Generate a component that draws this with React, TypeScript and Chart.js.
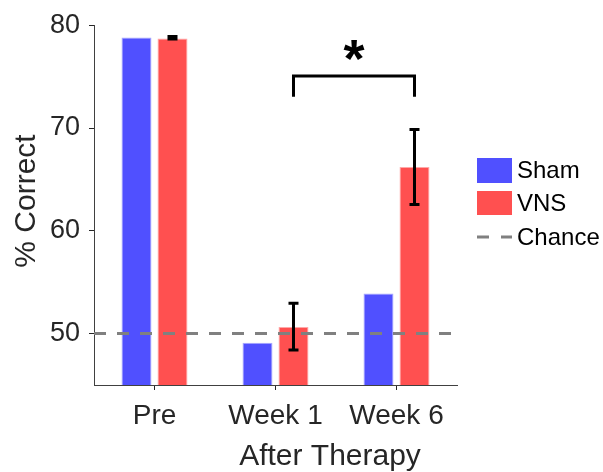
import React, { useEffect, useRef } from "react";
import { Chart, registerables } from "chart.js";
Chart.register(...registerables);

const categories = ["Pre", "Week 1", "Week 6"];
const shamValues = [78.8, 49.1, 53.9];
const vnsValues = [78.7, 50.65, 66.2];
const vnsErrLow = [78.65, 48.4, 62.55];
const vnsErrHigh = [78.9, 52.95, 69.85];
const chanceLevel = 50;
const yTicks = [50, 60, 70, 80];
const yMin = 45;
const yMax = 80;
const sigPair = [1, 2];
const sigBracketTop = 75.05;
const sigBracketBottom = 73.05;
const sigLabel = "*";
const legendLabels = ["Sham", "VNS", "Chance"];
const xTitle = "After Therapy";
const yTitle = "% Correct";

const SHAM = "#5050FF";
const VNS = "#FF5050";
const TXT = "#262626";
const FONT = "'Liberation Sans', Arial, Helvetica, sans-serif";

const overlay = {
  id: "overlay",
  afterDatasetsDraw(chart: any) {
    const ctx = chart.ctx;
    const { left, right } = chart.chartArea;
    const y = chart.scales.y;
    const meta = chart.getDatasetMeta(1);
    ctx.save();
    // chance line
    ctx.strokeStyle = "#808080";
    ctx.lineWidth = 3;
    ctx.setLineDash([12, 11]);
    const cy = y.getPixelForValue(chanceLevel);
    ctx.beginPath();
    ctx.moveTo(left, cy);
    ctx.lineTo(right, cy);
    ctx.stroke();
    ctx.setLineDash([]);
    // error bars
    ctx.strokeStyle = "#000";
    ctx.lineWidth = 3;
    meta.data.forEach((bar: any, i: number) => {
      const x = bar.x;
      const yl = y.getPixelForValue(vnsErrLow[i]);
      const yh = y.getPixelForValue(vnsErrHigh[i]);
      ctx.beginPath();
      ctx.moveTo(x, yl);
      ctx.lineTo(x, yh);
      ctx.moveTo(x - 5, yl);
      ctx.lineTo(x + 5, yl);
      ctx.moveTo(x - 5, yh);
      ctx.lineTo(x + 5, yh);
      ctx.stroke();
    });
    // significance bracket
    const x1 = meta.data[sigPair[0]].x;
    const x2 = meta.data[sigPair[1]].x;
    const bt = y.getPixelForValue(sigBracketTop);
    const bb = y.getPixelForValue(sigBracketBottom);
    ctx.beginPath();
    ctx.moveTo(x1, bb);
    ctx.lineTo(x1, bt);
    ctx.lineTo(x2, bt);
    ctx.lineTo(x2, bb);
    ctx.stroke();
    ctx.fillStyle = "#000";
    ctx.font = `bold 54px ${FONT}`;
    ctx.textAlign = "center";
    ctx.textBaseline = "alphabetic";
    ctx.fillText(sigLabel, (x1 + x2) / 2, bt + 1);
    ctx.restore();
  },
  afterDraw(chart: any) {
    const ctx = chart.ctx;
    ctx.save();
    // legend
    const lx = 477;
    const boxW = 35;
    ctx.font = `24px ${FONT}`;
    ctx.textAlign = "left";
    ctx.textBaseline = "middle";
    ctx.fillStyle = SHAM;
    ctx.fillRect(lx, 158, boxW, 25);
    ctx.fillStyle = VNS;
    ctx.fillRect(lx, 191, boxW, 24);
    ctx.strokeStyle = "#808080";
    ctx.lineWidth = 3;
    ctx.beginPath();
    ctx.moveTo(lx, 237);
    ctx.lineTo(lx + 12, 237);
    ctx.moveTo(lx + 24, 237);
    ctx.lineTo(lx + boxW, 237);
    ctx.stroke();
    ctx.fillStyle = "#000";
    ctx.fillText(legendLabels[0], 517, 171);
    ctx.fillText(legendLabels[1], 517, 204);
    ctx.fillText(legendLabels[2], 517, 238);
    // axis titles
    ctx.fillStyle = TXT;
    ctx.font = `30px ${FONT}`;
    ctx.textAlign = "center";
    ctx.textBaseline = "middle";
    ctx.fillText(xTitle, 330, 457);
    ctx.translate(27, 201);
    ctx.rotate(-Math.PI / 2);
    ctx.fillText(yTitle, 0, 0);
    ctx.restore();
  },
};

export default function App() {
  const ref = useRef<HTMLCanvasElement>(null);
  useEffect(() => {
    document.body.style.margin = "0";
    const chart = new Chart(ref.current as HTMLCanvasElement, {
      type: "bar",
      data: {
        labels: categories,
        datasets: [
          {
            label: legendLabels[0],
            data: shamValues,
            backgroundColor: SHAM,
            borderColor: "#A8A8FF",
            borderWidth: 1,
            barPercentage: 0.833,
            categoryPercentage: 0.595,
          },
          {
            label: legendLabels[1],
            data: vnsValues,
            backgroundColor: VNS,
            borderColor: "#FFA8A8",
            borderWidth: 1,
            barPercentage: 0.833,
            categoryPercentage: 0.595,
          },
        ],
      },
      options: {
        responsive: false,
        animation: false,
        layout: { padding: { left: 0, top: 20, right: 146, bottom: 0 } },
        plugins: { legend: { display: false }, tooltip: { enabled: false } },
        scales: {
          x: {
            afterFit: (s: any) => {
              s.height = 87;
            },
            grid: {
              display: true,
              offset: false,
              drawOnChartArea: false,
              drawTicks: true,
              tickLength: 5,
              color: TXT,
            },
            border: { color: "#404040", width: 1 },
            ticks: { color: TXT, font: { size: 28, family: FONT }, padding: 9 },
          },
          y: {
            min: yMin,
            max: yMax,
            afterFit: (s: any) => {
              s.width = 94;
            },
            afterBuildTicks: (s: any) => {
              s.ticks = yTicks.map((v) => ({ value: v }));
            },
            grid: {
              display: true,
              drawOnChartArea: false,
              drawTicks: true,
              tickLength: 5,
              color: TXT,
            },
            border: { color: "#404040", width: 1 },
            ticks: { color: TXT, font: { size: 27, family: FONT }, padding: 9 },
          },
        },
      },
      plugins: [overlay],
    });
    return () => chart.destroy();
  }, []);
  return (
    <div style={{ width: 603, height: 472 }}>
      <canvas ref={ref} width={603} height={472} style={{ display: "block" }} />
    </div>
  );
}
